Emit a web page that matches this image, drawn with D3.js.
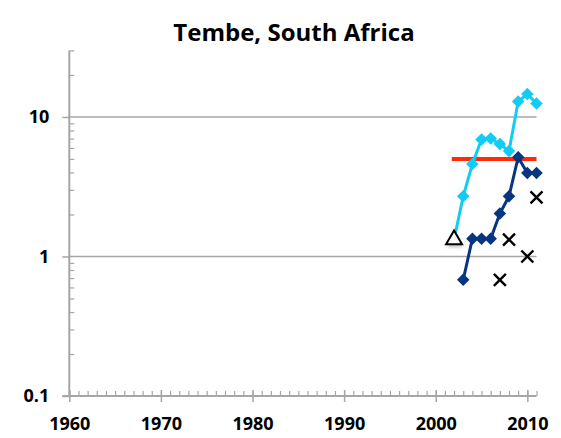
<!DOCTYPE html>
<html><head><meta charset="utf-8">
<script src="https://cdn.jsdelivr.net/npm/d3@7"></script>
<style>body{margin:0;background:#fff}svg{display:block}</style>
</head><body><svg id="c" width="561" height="438"></svg>
<script>
const title = "Tembe, South Africa";
const xTicks = [1960, 1970, 1980, 1990, 2000, 2010];
const yTicks = [0.1, 1, 10];
const yGrid = [1, 10];
const lightYears = [2002, 2003, 2004, 2005, 2006, 2007, 2008, 2009, 2010, 2011];
const lightValues = [1.32, 2.7, 4.6, 6.9, 7.0, 6.4, 5.7, 12.9, 14.6, 12.5];
const darkYears = [2003, 2004, 2005, 2006, 2007, 2008, 2009, 2010, 2011];
const darkValues = [0.68, 1.34, 1.34, 1.34, 2.03, 2.7, 5.15, 3.96, 3.96];
const crossYears = [2007, 2008, 2010, 2011];
const crossValues = [0.68, 1.32, 1.0, 2.65];
const triangleYears = [2002];
const triangleValues = [1.32];
const redYears = [2001.75, 2011];
const redValues = [5.0, 5.0];

const svg = d3.select("#c");
const x = d3.scaleLinear().domain([1960, 2011]).range([69.3, 536.5]);
const y = d3.scaleLog().domain([0.1, 30]).range([396, 50.4]);
const axisCol = "#a6a6a6";
const font = "'Open Sans', sans-serif";

svg.append("text").attr("x", 294).attr("y", 41).attr("text-anchor", "middle")
  .attr("font-family", font).attr("font-weight", 700).attr("font-size", 24)
  .attr("fill", "#000").text(title);

// gridlines
svg.append("g").selectAll("line").data(yGrid).join("line")
  .attr("x1", x(1960)).attr("x2", x(2011)).attr("y1", d => y(d)).attr("y2", d => y(d))
  .attr("stroke", axisCol).attr("stroke-width", 1.5);

// y axis
const yMinor = [];
for (let e = -1; e <= 1; e++) for (let m = 2; m <= 9; m++) { const v = m * Math.pow(10, e); if (v <= 30) yMinor.push(v); }
const yMinorAxis = d3.axisRight(y).tickValues(yMinor).tickSize(5).tickFormat("");
const gym = svg.append("g").attr("transform", `translate(${x(1960)},0)`).call(yMinorAxis);
gym.select(".domain").remove();
gym.selectAll("line").attr("stroke", axisCol).attr("stroke-width", 1.2);
const yAxis = d3.axisLeft(y).tickValues(yTicks).tickSize(7).tickPadding(13).tickFormat(d3.format("~g"));
const gy = svg.append("g").attr("transform", `translate(${x(1960)},0)`).call(yAxis);
gy.select(".domain").attr("d", `M0,${y(30)}V${y(0.1)}`).attr("stroke", axisCol).attr("stroke-width", 2);
gy.selectAll("line").attr("stroke", axisCol).attr("stroke-width", 1.5);
gy.selectAll("text").attr("font-family", font).attr("font-weight", 700).attr("font-size", 18).attr("fill", "#000");

// x axis
const xMinor = d3.range(1960, 2012, 1);
const xMinorAxis = d3.axisTop(x).tickValues(xMinor).tickSize(5).tickFormat("");
const gxm = svg.append("g").attr("transform", `translate(0,${y(0.1)})`).call(xMinorAxis);
gxm.select(".domain").remove();
gxm.selectAll("line").attr("stroke", axisCol).attr("stroke-width", 1.2);
const xAxis = d3.axisBottom(x).tickValues(xTicks).tickSize(6).tickPadding(15).tickFormat(d3.format("d"));
const gx = svg.append("g").attr("transform", `translate(0,${y(0.1)})`).call(xAxis);
gx.select(".domain").attr("d", `M${x(1960)-7},0H${x(2011)}`).attr("stroke", axisCol).attr("stroke-width", 2);
gx.selectAll(".tick line").attr("y1", -6).attr("stroke", axisCol).attr("stroke-width", 1.5);
gx.selectAll("text").attr("font-family", font).attr("font-weight", 700).attr("font-size", 18).attr("fill", "#000");

const line = d3.line().x(d => x(d[0])).y(d => y(d[1]));
const light = "#12ccf7", dark = "#07357f";

// red line
svg.append("path").datum(d3.zip(redYears, redValues)).attr("d", line)
  .attr("stroke", "#ff2a0a").attr("stroke-width", 4).attr("fill", "none");

// light series
const lightData = d3.zip(lightYears, lightValues);
svg.append("path").datum(lightData).attr("d", line).attr("stroke", light).attr("stroke-width", 3).attr("fill", "none");
const diamond = d3.symbol().type(d3.symbolDiamond2).size(100);
svg.append("g").selectAll("path").data(lightData.slice(1)).join("path")
  .attr("transform", d => `translate(${x(d[0])},${y(d[1])})`).attr("d", diamond).attr("fill", light);

// dark series
const darkData = d3.zip(darkYears, darkValues);
svg.append("path").datum(darkData).attr("d", line).attr("stroke", dark).attr("stroke-width", 3).attr("fill", "none");
svg.append("g").selectAll("path").data(darkData).join("path")
  .attr("transform", d => `translate(${x(d[0])},${y(d[1])})`).attr("d", diamond).attr("fill", dark);

// triangle with shadow
const tri = d3.symbol().type(d3.symbolTriangle).size(110);
const triData = d3.zip(triangleYears, triangleValues);
svg.append("g").selectAll("path").data(triData).join("path")
  .attr("transform", d => `translate(${x(d[0])+1},${y(d[1])+3})`).attr("d", tri)
  .attr("fill", "#888").attr("opacity", 0.5).attr("filter", "blur(1.5px)");
svg.append("g").selectAll("path").data(triData).join("path")
  .attr("transform", d => `translate(${x(d[0])},${y(d[1])})`).attr("d", tri)
  .attr("fill", "#fff").attr("stroke", "#000").attr("stroke-width", 2);

// crosses
svg.append("g").selectAll("path").data(d3.zip(crossYears, crossValues)).join("path")
  .attr("transform", d => `translate(${x(d[0])},${y(d[1])})`)
  .attr("d", "M-6,-6L6,6M-6,6L6,-6")
  .attr("stroke", "#000").attr("stroke-width", 2.4).attr("fill", "none");
</script></body></html>
